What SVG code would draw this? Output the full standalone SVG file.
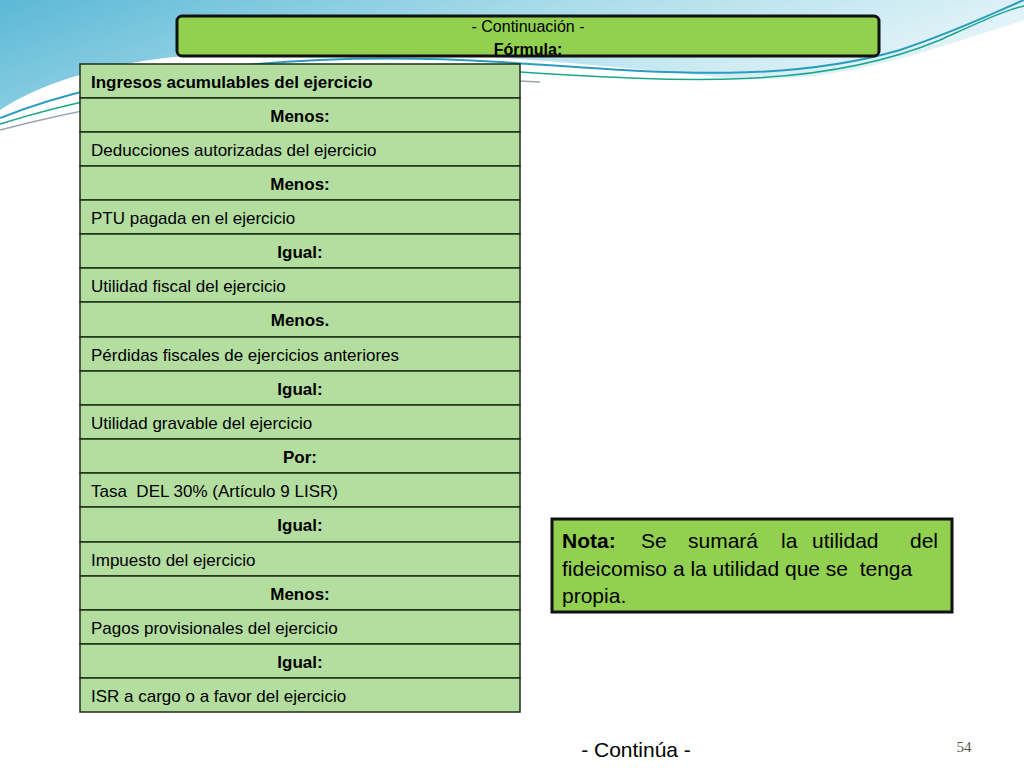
<svg xmlns="http://www.w3.org/2000/svg" width="1024" height="768" viewBox="0 0 1024 768">
<defs>
<linearGradient id="bg" x1="0" y1="0" x2="1" y2="0.3">
<stop offset="0" stop-color="#5bb8d6"/><stop offset="0.5" stop-color="#a8dbe9"/><stop offset="1" stop-color="#e6f5f9"/>
</linearGradient>
<style>
.t{font-family:"Liberation Sans",Arial,sans-serif;font-size:17px;fill:#000}
.b{font-weight:bold;text-anchor:middle}
.row{fill:#b3dea0;stroke:#1f2f1a;stroke-width:1.5}
.n{font-size:21px}
</style>
</defs>
<rect width="1024" height="768" fill="#ffffff"/>
<path d="M0,0 H1024 V20 C900,60 820,90 700,75 C500,55 300,40 150,60 C80,70 30,90 0,110 Z" fill="url(#bg)"/>
<path d="M0,118 C120,70 300,50 500,62 C650,72 780,85 900,50 C960,30 1000,10 1024,0" fill="none" stroke="#2a9cc0" stroke-width="2"/>
<path d="M0,124 C140,80 320,60 520,72 C680,82 820,90 940,40 C980,22 1005,10 1024,6" fill="none" stroke="#1aa68a" stroke-width="1.5"/>
<path d="M0,130 C150,90 330,72 540,82" fill="none" stroke="#9aa6ad" stroke-width="1.5"/>
<g id="header">
<rect x="177" y="16" width="702" height="40" rx="5" fill="#92d050" stroke="#111" stroke-width="3"/>
<text class="t" x="528" y="32" style="font-size:16px;text-anchor:middle">- Continuación -</text>
<text class="t" x="528" y="55" style="font-size:16px;text-anchor:middle;font-weight:bold">Fórmula:</text>
</g>
<g id="table">
<rect class="row" x="80" y="64" width="440" height="34"/>
<rect class="row" x="80" y="98" width="440" height="34"/>
<rect class="row" x="80" y="132" width="440" height="34"/>
<rect class="row" x="80" y="166" width="440" height="34"/>
<rect class="row" x="80" y="200" width="440" height="34"/>
<rect class="row" x="80" y="234" width="440" height="34"/>
<rect class="row" x="80" y="268" width="440" height="34"/>
<rect class="row" x="80" y="302" width="440" height="35"/>
<rect class="row" x="80" y="337" width="440" height="34"/>
<rect class="row" x="80" y="371" width="440" height="34"/>
<rect class="row" x="80" y="405" width="440" height="34"/>
<rect class="row" x="80" y="439" width="440" height="34"/>
<rect class="row" x="80" y="473" width="440" height="34"/>
<rect class="row" x="80" y="507" width="440" height="35"/>
<rect class="row" x="80" y="542" width="440" height="34"/>
<rect class="row" x="80" y="576" width="440" height="34"/>
<rect class="row" x="80" y="610" width="440" height="34"/>
<rect class="row" x="80" y="644" width="440" height="34"/>
<rect class="row" x="80" y="678" width="440" height="34"/>
<text class="t" x="91" y="88" style="font-weight:bold">Ingresos acumulables del ejercicio</text>
<text class="t b" x="300" y="122">Menos:</text>
<text class="t" x="91" y="156">Deducciones autorizadas del ejercicio</text>
<text class="t b" x="300" y="190">Menos:</text>
<text class="t" x="91" y="224">PTU pagada en el ejercicio</text>
<text class="t b" x="300" y="258">Igual:</text>
<text class="t" x="91" y="292">Utilidad fiscal del ejercicio</text>
<text class="t b" x="300" y="326">Menos.</text>
<text class="t" x="91" y="361">Pérdidas fiscales de ejercicios anteriores</text>
<text class="t b" x="300" y="395">Igual:</text>
<text class="t" x="91" y="429">Utilidad gravable del ejercicio</text>
<text class="t b" x="300" y="463">Por:</text>
<text class="t" x="91" y="497" xml:space="preserve">Tasa  DEL 30% (Artículo 9 LISR)</text>
<text class="t b" x="300" y="531">Igual:</text>
<text class="t" x="91" y="566">Impuesto del ejercicio</text>
<text class="t b" x="300" y="600">Menos:</text>
<text class="t" x="91" y="634">Pagos provisionales del ejercicio</text>
<text class="t b" x="300" y="668">Igual:</text>
<text class="t" x="91" y="702">ISR a cargo o a favor del ejercicio</text>
</g>
<g id="nota">
<rect x="552" y="519" width="400" height="93" fill="#92d050" stroke="#111" stroke-width="3"/>
<text class="t n" y="548"><tspan x="562" style="font-weight:bold">Nota:</tspan> <tspan x="641">Se</tspan> <tspan x="688">sumará</tspan> <tspan x="781">la</tspan> <tspan x="812">utilidad</tspan> <tspan x="910">del</tspan></text>
<text class="t n" x="562" y="576" xml:space="preserve">fideicomiso a la utilidad que se  tenga</text>
<text class="t n" x="562" y="603">propia.</text>
</g>
<text class="t" x="636" y="757" style="font-size:21px;text-anchor:middle">- Continúa -</text>
<text x="964" y="752" font-family="Liberation Serif,serif" font-size="15" fill="#555" text-anchor="middle">54</text>
</svg>
